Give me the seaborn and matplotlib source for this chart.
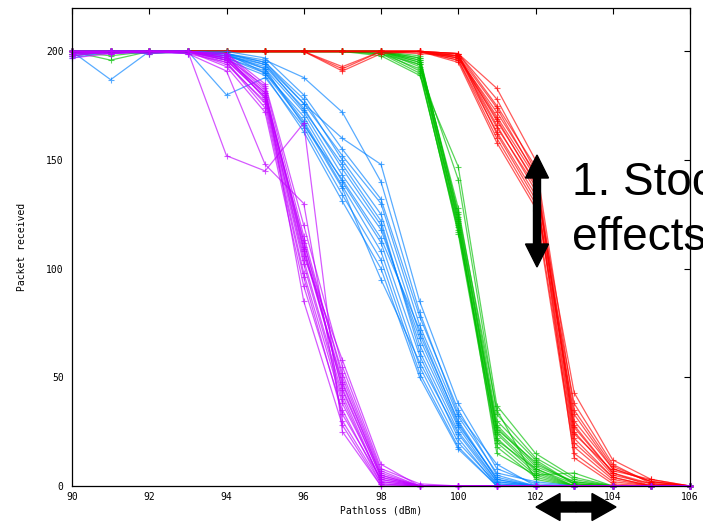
import matplotlib
matplotlib.use("Agg")
import matplotlib.pyplot as plt
from matplotlib.patches import FancyArrow
from matplotlib.transforms import IdentityTransform
import seaborn as sns
import pandas as pd

pathloss = [90, 91, 92, 93, 94, 95, 96, 97, 98, 99, 100, 101, 102, 103, 104, 105, 106]

purple_runs = [
    [200, 200, 200, 200, 198, 182, 110, 45, 4, 0, 0, 0, 0, 0, 0, 0, 0],
    [199, 200, 200, 200, 196, 179, 104, 42, 2, 0, 0, 0, 0, 0, 0, 0, 0],
    [200, 199, 200, 200, 197, 184, 115, 50, 6, 0, 0, 0, 0, 0, 0, 0, 0],
    [198, 200, 200, 199, 195, 176, 98, 38, 3, 0, 0, 0, 0, 0, 0, 0, 0],
    [200, 200, 200, 200, 199, 185, 120, 55, 8, 1, 0, 0, 0, 0, 0, 0, 0],
    [197, 199, 200, 200, 193, 172, 92, 35, 1, 0, 0, 0, 0, 0, 0, 0, 0],
    [200, 200, 199, 200, 197, 180, 108, 47, 5, 0, 0, 0, 0, 0, 0, 0, 0],
    [199, 200, 200, 200, 194, 177, 102, 40, 2, 0, 0, 0, 0, 0, 0, 0, 0],
    [200, 200, 200, 200, 152, 145, 167, 25, 0, 0, 0, 0, 0, 0, 0, 0, 0],
    [200, 200, 200, 199, 191, 148, 130, 30, 1, 0, 0, 0, 0, 0, 0, 0, 0],
    [198, 200, 200, 200, 196, 181, 112, 52, 7, 0, 0, 0, 0, 0, 0, 0, 0],
    [200, 199, 200, 200, 199, 183, 85, 28, 0, 0, 0, 0, 0, 0, 0, 0, 0],
    [200, 200, 200, 200, 198, 178, 106, 58, 10, 0, 0, 0, 0, 0, 0, 0, 0],
    [199, 200, 200, 200, 195, 174, 96, 33, 3, 0, 0, 0, 0, 0, 0, 0, 0],
    [200, 200, 200, 200, 197, 181, 109, 48, 5, 0, 0, 0, 0, 0, 0, 0, 0],
    [200, 200, 200, 200, 196, 179, 113, 44, 4, 0, 0, 0, 0, 0, 0, 0, 0],
]

blue_runs = [
    [200, 200, 200, 200, 199, 195, 178, 150, 125, 70, 30, 3, 0, 0, 0, 0, 0],
    [199, 200, 200, 200, 198, 193, 174, 146, 120, 65, 27, 2, 0, 0, 0, 0, 0],
    [200, 187, 200, 200, 199, 190, 170, 140, 112, 60, 22, 0, 0, 0, 0, 0, 0],
    [200, 200, 200, 200, 200, 197, 180, 155, 132, 78, 35, 5, 0, 0, 0, 0, 0],
    [197, 200, 200, 200, 197, 191, 168, 138, 108, 55, 20, 1, 0, 0, 0, 0, 0],
    [200, 200, 200, 199, 199, 194, 176, 160, 148, 85, 38, 8, 1, 0, 0, 0, 0],
    [200, 200, 200, 200, 180, 188, 165, 134, 104, 52, 18, 0, 0, 0, 0, 0, 0],
    [199, 200, 200, 200, 199, 196, 188, 172, 140, 80, 33, 10, 0, 0, 0, 0, 0],
    [200, 199, 200, 200, 196, 189, 163, 131, 100, 50, 17, 0, 0, 0, 0, 0, 0],
    [200, 200, 200, 200, 198, 192, 172, 143, 118, 68, 28, 4, 0, 0, 0, 0, 0],
    [200, 200, 200, 200, 199, 195, 176, 152, 130, 74, 32, 6, 2, 0, 0, 0, 0],
    [198, 200, 200, 200, 197, 190, 167, 137, 95, 57, 24, 1, 0, 0, 0, 0, 0],
    [200, 200, 200, 200, 198, 194, 173, 148, 122, 62, 25, 2, 0, 0, 0, 0, 0],
    [200, 200, 199, 200, 199, 192, 166, 141, 114, 72, 29, 3, 0, 0, 0, 0, 0],
]

green_runs = [
    [200, 200, 200, 200, 200, 200, 200, 200, 200, 196, 122, 25, 8, 1, 0, 0, 0],
    [200, 196, 200, 200, 200, 200, 200, 200, 199, 194, 118, 22, 6, 0, 0, 0, 0],
    [199, 200, 200, 200, 200, 200, 200, 200, 200, 197, 125, 28, 10, 2, 0, 0, 0],
    [200, 200, 200, 200, 200, 200, 200, 200, 198, 189, 147, 37, 15, 4, 0, 0, 0],
    [200, 200, 200, 200, 200, 200, 200, 200, 200, 195, 120, 20, 5, 0, 0, 0, 0],
    [200, 200, 200, 200, 200, 200, 200, 200, 199, 192, 116, 18, 4, 0, 0, 0, 0],
    [198, 200, 200, 200, 200, 200, 200, 200, 200, 196, 128, 30, 12, 1, 0, 0, 0],
    [200, 200, 200, 200, 200, 200, 200, 200, 200, 193, 141, 33, 13, 3, 0, 0, 0],
    [200, 200, 199, 200, 200, 200, 200, 200, 199, 190, 119, 24, 7, 0, 0, 0, 0],
    [200, 200, 200, 200, 200, 200, 200, 200, 200, 198, 124, 27, 9, 2, 0, 0, 0],
    [200, 200, 200, 200, 200, 200, 200, 200, 200, 195, 121, 15, 5, 6, 0, 0, 0],
    [200, 200, 200, 200, 200, 200, 200, 200, 200, 197, 126, 35, 3, 0, 0, 0, 0],
    [200, 200, 200, 200, 200, 200, 200, 200, 200, 194, 123, 26, 11, 1, 0, 0, 0],
    [200, 198, 200, 200, 200, 200, 200, 200, 200, 191, 117, 21, 8, 0, 0, 0, 0],
]

red_runs = [
    [200, 200, 200, 200, 200, 200, 200, 200, 200, 200, 198, 170, 142, 25, 5, 1, 0],
    [200, 200, 200, 200, 200, 200, 200, 192, 200, 200, 197, 165, 138, 22, 4, 0, 0],
    [199, 200, 200, 200, 200, 200, 200, 200, 200, 200, 199, 175, 147, 30, 8, 2, 0],
    [200, 200, 200, 200, 200, 200, 200, 191, 199, 200, 196, 160, 130, 18, 3, 0, 0],
    [200, 200, 200, 200, 200, 200, 200, 200, 200, 199, 198, 168, 140, 43, 12, 3, 0],
    [200, 200, 200, 200, 200, 200, 200, 200, 200, 200, 197, 172, 144, 27, 6, 1, 0],
    [200, 200, 200, 200, 200, 200, 200, 193, 200, 200, 195, 158, 128, 15, 2, 0, 0],
    [200, 200, 200, 200, 200, 200, 200, 200, 200, 200, 199, 183, 150, 35, 9, 2, 0],
    [200, 200, 200, 200, 200, 200, 200, 200, 200, 200, 198, 166, 136, 20, 4, 0, 0],
    [200, 200, 200, 200, 200, 200, 200, 200, 200, 200, 196, 163, 134, 38, 10, 1, 0],
    [200, 200, 200, 200, 200, 200, 200, 200, 200, 200, 199, 178, 145, 24, 7, 3, 0],
    [200, 200, 200, 200, 200, 200, 200, 200, 200, 200, 197, 169, 139, 13, 1, 0, 0],
    [200, 200, 200, 200, 200, 200, 200, 200, 200, 200, 198, 174, 143, 28, 6, 0, 0],
    [200, 200, 200, 200, 200, 200, 200, 200, 200, 200, 199, 162, 132, 33, 8, 2, 0],
]

groups = [
    ("green", green_runs, "#00c000"),
    ("red", red_runs, "#ff0000"),
    ("blue", blue_runs, "#0080ff"),
    ("purple", purple_runs, "#c000ff"),
]

rows = []
for name, runs, _ in groups:
    for i, run in enumerate(runs):
        for x, v in zip(pathloss, run):
            rows.append({"group": name, "run": f"{name}{i}", "pathloss": x, "received": v})
df = pd.DataFrame(rows)

sns.set_style("white")
plt.rcParams["font.family"] = ["DejaVu Sans Mono"]
plt.rcParams["text.color"] = "black"
plt.rcParams["axes.labelcolor"] = "black"

fig = plt.figure(figsize=(7.03, 5.23), dpi=100)
ax = fig.add_axes([72 / 703, 1 - 486 / 523, (690 - 72) / 703, (486 - 8) / 523])

for name, _, color in groups:
    sns.lineplot(
        data=df[df["group"] == name], x="pathloss", y="received",
        units="run", estimator=None, color=color, ax=ax,
        lw=0.9, alpha=0.65, marker="+", markersize=5,
        mec=color, mew=0.8, legend=False, clip_on=False, zorder=2,
    )

ax.set_xlim(90, 106)
ax.set_ylim(0, 220)
ax.set_xticks([90, 92, 94, 96, 98, 100, 102, 104, 106])
ax.set_yticks([0, 50, 100, 150, 200])
ax.tick_params(direction="in", length=4.5, width=0.8, top=True, right=True,
               labelsize=7, colors="black")
ax.tick_params(axis="y", pad=6)
ax.tick_params(axis="x", pad=4)
for s in ax.spines.values():
    s.set_color("black")
    s.set_linewidth(0.9)
    s.set_zorder(3)
ax.set_xlabel("Pathloss (dBm)", fontsize=7, labelpad=3, color="black")
ax.set_ylabel("Packet received", fontsize=7, labelpad=14, color="black")

fig.text(572 / 703, (523 - 195) / 523, "1. Stochastic", fontsize=33, color="black",
         family="Liberation Sans", va="baseline", ha="left")
fig.text(572 / 703, (523 - 250) / 523, "effects", fontsize=33, color="black",
         family="Liberation Sans", va="baseline", ha="left")

ident = IdentityTransform()
# vertical double arrow
vx, vtop, vbot = 537, 523 - 155, 523 - 267
vmid = (vtop + vbot) / 2
for y0, dy in [(vmid, vtop - vmid), (vmid, vbot - vmid)]:
    fig.add_artist(FancyArrow(vx, y0, 0, dy, width=7, head_width=23, head_length=23,
                              length_includes_head=True, color="black",
                              transform=ident))
# horizontal double arrow
hy, hl, hr = 523 - 507, 536, 616
hmid = (hl + hr) / 2
for dx in [hl - hmid, hr - hmid]:
    fig.add_artist(FancyArrow(hmid, hy, dx, 0, width=10, head_width=27, head_length=24,
                              length_includes_head=True, color="black",
                              transform=ident))

fig.savefig("out.png", dpi=100)
